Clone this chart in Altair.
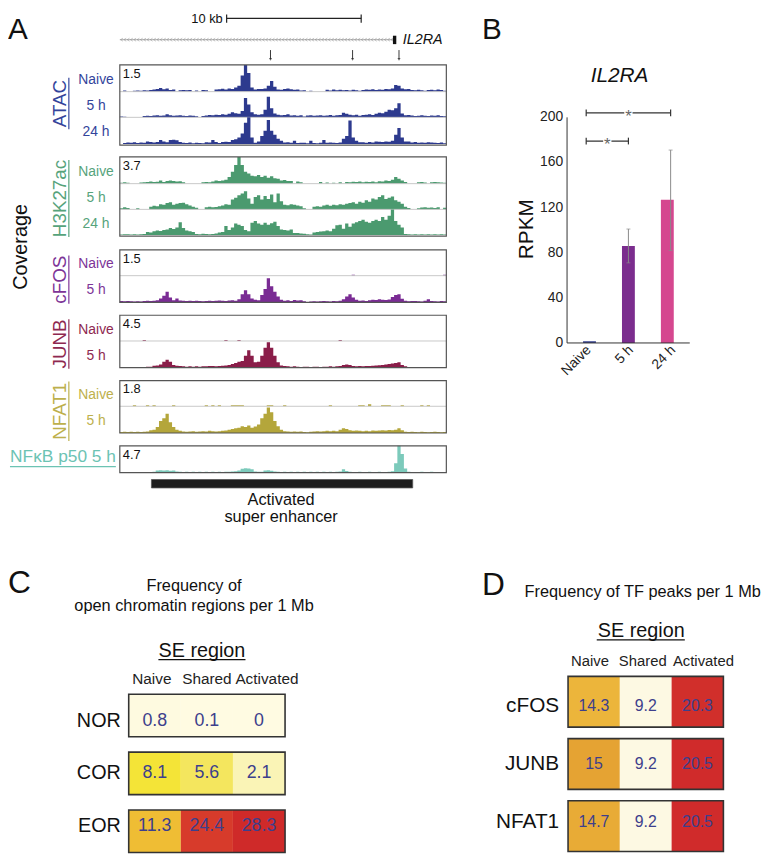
import altair as alt
import pandas as pd

FONT = "Liberation Sans"
W, H = 761, 850


def px(X):
    return X - 8


def py(Y):
    return Y - 8


# ============================ DATA ============================
GENOME_SPAN_KB = 24.27          # width of the browser window in kb
KB_PER_BIN = GENOME_SPAN_KB / 100

# coverage in percent of each track's data range (100 bins across window)
ATAC_NAIVE = [0,4,0,0,3,4,3,5,4,6, 8,10,14,9,12,6,8,0,5,6, 5,6,0,4,0,6,5,0,0,8,
              9,11,8,12,10,15,22,60,100,70, 15,8,10,10,12,22,40,18,8,7, 10,12,9,7,8,4,5,0,3,0,
              0,0,0,7,4,8,5,7,5,6, 4,7,5,3,6,8,7,9,6,8, 7,10,9,12,25,22,12,9,10,6, 5,7,5,3,6,7,5,8,6,3]
ATAC_5H = [3,2,0,0,0,0,0,5,6,5, 7,8,6,7,12,8,6,7,8,6, 5,7,6,4,0,5,7,9,8,10,
           9,12,10,14,20,16,14,25,75,50, 20,12,10,12,30,80,35,15,10,8, 9,12,7,8,6,8,3,7,8,6,
           7,8,6,7,9,6,8,9,18,14, 10,8,10,6,9,10,12,9,14,18, 16,22,30,28,35,55,15,8,9,7, 5,6,8,6,5,7,6,8,5,4]
ATAC_24H = [0,4,6,5,7,4,6,5,10,8, 6,8,15,10,7,15,16,14,8,5, 4,6,3,5,4,3,7,6,15,8,
            4,8,9,8,15,18,25,40,80,100, 25,5,10,30,50,90,50,35,20,12, 6,7,5,12,4,5,5,3,12,4,
            3,5,15,5,6,5,4,6,20,30, 88,25,12,7,7,5,8,6,10,9, 8,10,9,12,35,60,25,10,10,6, 8,5,6,5,7,6,5,4,6,3]
H3K27AC_NAIVE = [3,5,3,0,0,0,4,5,6,8, 6,7,12,6,10,12,10,8,9,5, 0,0,0,0,0,5,6,5,8,12,
                 10,12,15,25,45,70,100,70,45,38, 30,28,32,25,30,22,28,20,18,12, 14,10,10,0,8,5,0,0,0,0,
                 0,6,0,4,0,3,0,5,0,6, 5,7,6,8,5,7,6,8,5,9, 8,12,10,15,25,18,12,6,0,0, 0,5,6,4,0,5,6,5,4,3]
H3K27AC_5H = [4,8,5,0,0,4,0,0,0,10, 14,12,20,18,25,28,18,22,25,26, 20,15,10,6,0,0,8,10,8,9,
              12,15,20,18,38,45,55,62,70,42, 22,48,55,38,52,40,58,28,62,32, 18,16,20,18,15,12,4,0,0,10,
              12,10,15,18,14,18,16,20,18,22, 25,28,22,30,26,35,30,42,38,48, 55,40,45,50,35,30,22,10,5,0, 0,4,7,8,6,7,5,8,0,6]
H3K27AC_24H = [2,3,3,2,3,2,3,4,12,10, 15,18,16,20,22,28,24,30,50,28, 18,15,12,4,3,5,4,3,4,6,
               10,12,35,20,30,45,40,35,20,15, 48,55,45,40,48,40,46,52,35,22, 20,18,22,8,8,6,5,3,2,10,
               12,14,15,18,15,25,38,40,25,45, 32,45,50,55,60,52,48,55,60,55, 70,60,75,100,55,40,30,4,3,2, 3,2,3,2,3,2,3,2,3,2]
CFOS_NAIVE = [0,0,0,0,0,0,0,0,0,0, 0,0,0,0,0,0,0,0,0,0, 0,0,0,0,0,0,0,0,0,0,
              0,0,0,0,0,0,0,0,0,0, 0,0,0,0,0,0,0,0,0,0, 0,0,0,0,0,0,0,0,0,0,
              0,0,0,0,0,0,0,0,0,0, 0,4,0,0,0,0,0,0,0,0, 0,0,0,0,0,0,0,0,0,0, 0,0,0,0,0,0,0,0,0,4]
CFOS_5H = [5,4,5,4,3,4,3,5,6,5, 6,8,15,25,40,18,8,15,7,6, 5,6,5,6,5,4,5,6,5,6,
           7,6,5,7,8,6,12,30,45,30, 15,10,8,28,50,90,60,40,22,10, 6,8,5,9,7,8,4,0,3,4,
           3,4,5,4,3,5,4,6,12,22, 30,18,10,6,7,5,8,10,9,12, 10,9,11,20,28,30,14,6,4,5, 5,4,3,6,12,5,4,3,5,4]
JUNB_NAIVE = [0,0,0,0,0,0,0,4,0,0, 0,0,0,0,0,0,0,0,0,0, 0,0,0,0,0,0,0,0,0,0,
              0,0,4,0,0,0,4,0,0,0, 0,0,0,0,0,0,0,0,0,0, 0,0,0,0,0,0,0,0,0,0,
              0,0,0,0,0,0,0,4,0,0, 0,0,0,0,0,0,0,0,0,0, 0,0,0,0,0,0,0,0,0,0, 0,0,0,0,0,0,0,0,0,0]
JUNB_5H = [2,2,3,2,3,3,2,3,4,4, 7,8,12,22,30,22,10,7,6,5, 4,5,4,5,4,5,5,6,6,5,
           6,7,8,10,14,18,22,25,45,65, 45,20,22,45,75,95,75,45,20,8, 6,5,4,5,4,3,4,4,3,4,
           4,3,4,4,5,4,5,6,10,12, 10,6,5,6,5,6,6,7,8,9, 10,12,14,16,18,20,10,5,3,3, 2,3,2,3,2,3,2,2,3,2]
NFAT1_NAIVE = [0,0,0,0,4,0,0,0,4,0, 4,0,0,0,0,0,4,0,0,0, 0,0,0,0,0,0,4,0,4,0,
               4,0,0,0,4,4,4,4,0,0, 0,0,0,0,0,4,4,0,0,0, 4,0,0,0,0,0,0,0,0,0,
               0,0,0,0,4,0,0,0,0,0, 0,0,0,4,4,0,8,0,0,0, 4,4,4,0,0,0,4,0,0,0, 0,0,4,0,4,0,0,0,0,0]
NFAT1_5H = [4,5,4,5,4,5,4,5,6,10, 12,22,45,55,72,40,22,12,8,6, 5,6,7,5,6,7,6,8,7,6,
            7,8,9,12,15,18,20,25,22,28, 20,24,32,55,72,95,78,45,25,12, 7,6,5,6,5,6,4,3,5,6,
            7,6,7,8,7,8,7,12,18,15, 10,8,9,8,7,8,7,9,8,9, 10,9,11,10,12,18,10,5,4,5, 4,3,5,4,3,4,5,4,3,4]
NFKB_5H = [2,2,1,2,2,1,2,2,2,2, 3,8,9,8,9,7,8,4,3,2, 3,2,3,2,3,2,3,2,3,2,
           3,2,3,3,4,5,8,14,16,15, 12,4,3,3,8,9,7,4,3,2, 3,2,3,2,3,2,3,2,3,2,
           3,2,3,2,3,2,3,4,12,6, 3,2,2,3,2,2,3,2,2,3, 2,2,3,5,35,100,70,15,3,2, 2,2,3,2,2,3,2,2,2,2]

# genome annotations (kb within the window)
GENE_START_KB, GENE_END_KB = 0.0, 20.35
TSS_BLOCK_KB = [20.3, 20.55]
ARROW_KB = [11.2, 17.3, 20.75]
SCALEBAR_KB = [7.94, 17.94]
SUPER_ENHANCER_KB = [2.35, 21.77]

# panel B: IL2RA expression
B_CATS = ["Naive", "5 h", "24 h"]
B_RPKM = [1.5, 86, 127]
B_ERR_LO = [None, 71, 82]
B_ERR_HI = [None, 101, 171]
B_TICKS = [0, 40, 80, 120, 160, 200]
B_SIG_FROM = [0, 0]
B_SIG_TO = [2, 1]
B_SIG_Y = [204, 179]

# panel C
C_ROWS = ["NOR", "COR", "EOR"]
C_COLS = ["Naive", "Shared", "Activated"]
C_VALUES = [[0.8, 0.1, 0], [8.1, 5.6, 2.1], [11.3, 24.4, 28.3]]

# panel D
D_ROWS = ["cFOS", "JUNB", "NFAT1"]
D_COLS = ["Naive", "Shared", "Activated"]
D_VALUES = [[14.3, 9.2, 20.3], [15, 9.2, 20.5], [14.7, 9.2, 20.5]]

# ============================ HELPERS ============================
layers = []


def label(s, X, Y, size, color="#111111", align="center", baseline="middle", angle=0, style="normal"):
    return alt.Chart(pd.DataFrame({"t": [s]})).mark_text(
        align=align, baseline=baseline, fontSize=size, font=FONT, color=color,
        angle=angle, fontStyle=style).encode(text="t:N", x=alt.value(px(X)), y=alt.value(py(Y)))


def seg(X1, Y1, X2, Y2, color="#111111", w=1.0):
    return alt.Chart(pd.DataFrame({"a": [0]})).mark_rule(color=color, strokeWidth=w).encode(
        x=alt.value(px(X1)), x2=alt.value(px(X2)), y=alt.value(py(Y1)), y2=alt.value(py(Y2)))


def frame(X1, Y1, X2, Y2, color="#555555", w=1.2):
    return alt.Chart(pd.DataFrame({"a": [0]})).mark_rect(fillOpacity=0, stroke=color, strokeWidth=w).encode(
        x=alt.value(px(X1)), x2=alt.value(px(X2)), y=alt.value(py(Y1)), y2=alt.value(py(Y2)))


# ============================ PANEL A ============================
TX0, TX1 = 121, 451
gscale = alt.Scale(domain=[0, GENOME_SPAN_KB], range=[px(TX0), px(TX1)], nice=False, zero=False)

TRACKS = [
    dict(name="ATAC", color="#2d3a8e", lab="#33449b", rng="1.5", box=(61, 142),
         rows=[("Naive", ATAC_NAIVE, 61, 88), ("5 h", ATAC_5H, 88, 114), ("24 h", ATAC_24H, 114, 141)],
         nc=100, nl=52),
    dict(name="H3K27ac", color="#4b9a6f", lab="#56a37b", rng="3.7", box=(154, 234),
         rows=[("Naive", H3K27AC_NAIVE, 154, 181), ("5 h", H3K27AC_5H, 181, 207), ("24 h", H3K27AC_24H, 207, 233)],
         nc=196, nl=78),
    dict(name="cFOS", color="#7a2b94", lab="#7d3497", rng="1.5", box=(248, 301),
         rows=[("Naive", CFOS_NAIVE, 248, 274), ("5 h", CFOS_5H, 274, 301)], nc=278, nl=49),
    dict(name="JUNB", color="#8a1d49", lab="#8e2850", rng="4.5", box=(314, 367),
         rows=[("Naive", JUNB_NAIVE, 314, 340), ("5 h", JUNB_5H, 340, 367)], nc=343, nl=50),
    dict(name="NFAT1", color="#b4a63b", lab="#bdb04c", rng="1.8", box=(380, 433),
         rows=[("Naive", NFAT1_NAIVE, 380, 406), ("5 h", NFAT1_5H, 406, 433)], nc=411, nl=60),
]

for t in TRACKS:
    for i, (rl, vals, top, base) in enumerate(t["rows"]):
        assert len(vals) == 100
        df = pd.DataFrame({"s": [k * KB_PER_BIN for k in range(100)] + [GENOME_SPAN_KB],
                           "v": list(vals) + [vals[-1]]})
        layers.append(alt.Chart(df).mark_area(interpolate="step-after", color=t["color"]).encode(
            x=alt.X("s:Q", scale=gscale, axis=None),
            y=alt.Y("v:Q", scale=alt.Scale(domain=[0, 100], range=[py(base), py(top)], nice=False), axis=None)))
        if i < len(t["rows"]) - 1:
            layers.append(seg(TX0, base, TX1, base, "#c8c8c8", 1))
        layers.append(label(rl, 97, (top + base) / 2 + 1.5, 14, t["lab"]))
    b0, b1 = t["box"]
    layers.append(frame(TX0, b0, TX1, b1))
    layers.append(label(t["rng"], 124, b0 + 9, 13, "#111111", align="left"))
    layers.append(label(t["name"], 67, t["nc"], 19, t["lab"], baseline="alphabetic", angle=270))
    layers.append(seg(69.5, t["nc"] - t["nl"] / 2, 69.5, t["nc"] + t["nl"] / 2, t["lab"], 1.2))

# NFkB single track
nf_top, nf_base = 446, 473
df = pd.DataFrame({"s": [k * KB_PER_BIN for k in range(100)] + [GENOME_SPAN_KB],
                   "v": list(NFKB_5H) + [NFKB_5H[-1]]})
layers.append(alt.Chart(df).mark_area(interpolate="step-after", color="#7ccabb").encode(
    x=alt.X("s:Q", scale=gscale, axis=None),
    y=alt.Y("v:Q", scale=alt.Scale(domain=[0, 100], range=[py(nf_base), py(nf_top)], nice=False), axis=None)))
layers.append(frame(TX0, nf_top, TX1, nf_base))
layers.append(label("4.7", 124, nf_top + 9, 13, "#111111", align="left"))
layers.append(label("NF\u03baB p50 5 h", 117, 457, 17.5, "#6cc3b3", align="right"))
layers.append(seg(10, 467, 117, 467, "#6cc3b3", 1.2))

layers.append(label("Coverage", 27, 245, 20, "#111111", baseline="alphabetic", angle=270))

# gene model
gene_df = pd.DataFrame({"s": [GENE_START_KB], "e": [GENE_END_KB]})
layers.append(alt.Chart(gene_df).mark_rule(color="#9a9a9a", strokeWidth=0.8).encode(
    x=alt.X("s:Q", scale=gscale, axis=None), x2="e:Q", y=alt.value(py(35.5))))
chev = pd.DataFrame({"s": [0.12 + 0.245 * k for k in range(83)]})
layers.append(alt.Chart(chev).mark_point(shape="M1,-1L-0.6,0L1,1", filled=False, color="#8a8a8a",
                                          strokeWidth=0.7, size=9).encode(
    x=alt.X("s:Q", scale=gscale, axis=None), y=alt.value(py(35.5))))
tss = pd.DataFrame({"s": [TSS_BLOCK_KB[0]], "e": [TSS_BLOCK_KB[1]]})
layers.append(alt.Chart(tss).mark_rect(color="#111111").encode(
    x=alt.X("s:Q", scale=gscale, axis=None), x2="e:Q", y=alt.value(py(31.5)), y2=alt.value(py(40))))
layers.append(label("IL2RA", 407, 36, 14.5, "#111111", align="left", style="italic"))

# scale bar
sb = pd.DataFrame({"s": [SCALEBAR_KB[0]], "e": [SCALEBAR_KB[1]]})
layers.append(alt.Chart(sb).mark_rule(color="#222222", strokeWidth=1.2).encode(
    x=alt.X("s:Q", scale=gscale, axis=None), x2="e:Q", y=alt.value(py(14))))
sbe = pd.DataFrame({"s": SCALEBAR_KB})
layers.append(alt.Chart(sbe).mark_rule(color="#222222", strokeWidth=1.2).encode(
    x=alt.X("s:Q", scale=gscale, axis=None), y=alt.value(py(10)), y2=alt.value(py(18.5))))
layers.append(label("10 kb", 225, 14.5, 13, "#111111", align="right"))

# arrows
arr = pd.DataFrame({"s": ARROW_KB})
layers.append(alt.Chart(arr).mark_rule(color="#222222", strokeWidth=0.9).encode(
    x=alt.X("s:Q", scale=gscale, axis=None), y=alt.value(py(46)), y2=alt.value(py(55))))
layers.append(alt.Chart(arr).mark_point(shape="triangle-down", filled=True, color="#222222", size=10).encode(
    x=alt.X("s:Q", scale=gscale, axis=None), y=alt.value(py(55.5))))

# super enhancer bar
se = pd.DataFrame({"s": [SUPER_ENHANCER_KB[0]], "e": [SUPER_ENHANCER_KB[1]]})
layers.append(alt.Chart(se).mark_rect(color="#1e1e1e", stroke="#555555", strokeWidth=0.8).encode(
    x=alt.X("s:Q", scale=gscale, axis=None), x2="e:Q", y=alt.value(py(480)), y2=alt.value(py(488.5))))
layers.append(label("Activated", 284, 506, 16.5, baseline="alphabetic"))
layers.append(label("super enhancer", 284, 522.5, 16.5, baseline="alphabetic"))

layers.append(label("A", 8, 35, 30, "#111111", align="left", baseline="alphabetic"))

# ============================ PANEL B ============================
bx = alt.Scale(domain=[-0.5, 2.5], range=[px(571), px(699)], nice=False, zero=False)
by = alt.Scale(domain=[0, 200], range=[py(342), py(114)], nice=False, zero=False)
B_COLORS = ["#2e3a8c", "#7b2d8e", "#d5478f"]

bdf = pd.DataFrame({"i": [0, 1, 2], "cat": B_CATS, "v": B_RPKM})
layers.append(alt.Chart(bdf).mark_bar(size=13).encode(
    x=alt.X("i:Q", scale=bx, axis=None),
    y=alt.Y("v:Q", scale=by, axis=None),
    color=alt.Color("cat:N", scale=alt.Scale(domain=B_CATS, range=B_COLORS), legend=None)))

edf = pd.DataFrame({"i": [1, 2], "lo": B_ERR_LO[1:], "hi": B_ERR_HI[1:]})
layers.append(alt.Chart(edf).mark_rule(color="#8a8a8a", strokeWidth=1).encode(
    x=alt.X("i:Q", scale=bx, axis=None), y=alt.Y("lo:Q", scale=by, axis=None), y2="hi:Q"))
edl = pd.DataFrame({"i": [1, 2, 1, 2], "y": B_ERR_LO[1:] + B_ERR_HI[1:]})
layers.append(alt.Chart(edl).mark_tick(orient="horizontal", color="#8a8a8a", size=4, thickness=1).encode(
    x=alt.X("i:Q", scale=bx, axis=None), y=alt.Y("y:Q", scale=by, axis=None)))

# axes
axis_df = pd.DataFrame({"lo": [0], "hi": [200]})
layers.append(alt.Chart(axis_df).mark_rule(color="#333333", strokeWidth=1).encode(
    x=alt.value(px(573)), y=alt.Y("lo:Q", scale=by, axis=None), y2="hi:Q"))
layers.append(alt.Chart(axis_df).mark_rule(color="#333333", strokeWidth=1).encode(
    x=alt.value(px(573)), x2=alt.value(px(697)), y=alt.Y("lo:Q", scale=by, axis=None)))
tdf = pd.DataFrame({"v": B_TICKS, "t": [str(v) for v in B_TICKS]})
layers.append(alt.Chart(tdf).mark_text(align="right", baseline="middle", fontSize=14, font=FONT,
                                       color="#222222").encode(
    x=alt.value(px(569)), y=alt.Y("v:Q", scale=by, axis=None), text="t:N"))
layers.append(alt.Chart(bdf).mark_text(align="right", baseline="middle", fontSize=14, font=FONT,
                                       color="#222222", angle=315, dx=4).encode(
    x=alt.X("i:Q", scale=bx, axis=None), y=alt.value(py(350)), text="cat:N"))

# significance brackets
sdf = pd.DataFrame({"a": B_SIG_FROM, "b": B_SIG_TO, "y": B_SIG_Y})
sdf["m"] = (sdf["a"] + sdf["b"]) / 2
sdf["y0"] = sdf["y"] - 3
sdf["y1"] = sdf["y"] + 3
layers.append(alt.Chart(sdf).mark_rule(color="#333333", strokeWidth=1.2).encode(
    x=alt.X("a:Q", scale=bx, axis=None), x2="b:Q", y=alt.Y("y:Q", scale=by, axis=None)))
for c in ["a", "b"]:
    layers.append(alt.Chart(sdf).mark_rule(color="#333333", strokeWidth=1.2).encode(
        x=alt.X(f"{c}:Q", scale=bx, axis=None), y=alt.Y("y0:Q", scale=by, axis=None), y2="y1:Q"))
layers.append(alt.Chart(sdf).mark_point(shape="square", filled=True, color="white", opacity=1, size=70).encode(
    x=alt.X("m:Q", scale=bx, axis=None), y=alt.Y("y:Q", scale=by, axis=None)))
layers.append(alt.Chart(sdf).mark_text(text="*", fontSize=17, font=FONT, color="#666666", dy=4).encode(
    x=alt.X("m:Q", scale=bx, axis=None), y=alt.Y("y:Q", scale=by, axis=None)))

layers.append(label("IL2RA", 626, 72, 21, "#111111", style="italic"))
layers.append(label("RPKM", 539, 227, 21, "#111111", baseline="alphabetic", angle=270))
layers.append(label("B", 487, 35, 30, "#111111", align="left", baseline="alphabetic"))


# ============================ PANELS C / D ============================
def heatmap(rows, cols, values, x0, x1, y0, y1, pad, cdom, crng, row_x, row_size,
            head_y, head_size, head_dx, val_size):
    xs = alt.Scale(domain=[0, len(cols)], range=[px(x0), px(x1)], nice=False, zero=False)
    ys = alt.Scale(domain=rows, range=[py(y0), py(y1)], paddingInner=pad, paddingOuter=0)
    cells = pd.DataFrame([{"row": r, "c0": j, "c1": j + 1, "cm": j + 0.5, "v": values[i][j],
                           "lab": f"{values[i][j]:g}"}
                          for i, r in enumerate(rows) for j in range(len(cols))])
    out = []
    out.append(alt.Chart(cells).mark_rect().encode(
        x=alt.X("c0:Q", scale=xs, axis=None), x2="c1:Q",
        y=alt.Y("row:N", scale=ys, axis=None),
        color=alt.Color("v:Q", scale=alt.Scale(domain=cdom, range=crng, interpolate="rgb"), legend=None)))
    fr = pd.DataFrame({"row": rows, "c0": [0] * len(rows), "c1": [len(cols)] * len(rows)})
    out.append(alt.Chart(fr).mark_rect(fillOpacity=0, stroke="#333333", strokeWidth=1.6).encode(
        x=alt.X("c0:Q", scale=xs, axis=None), x2="c1:Q", y=alt.Y("row:N", scale=ys, axis=None)))
    out.append(alt.Chart(cells).mark_text(fontSize=val_size, font=FONT, color="#3d3f8c").encode(
        x=alt.X("cm:Q", scale=xs, axis=None), y=alt.Y("row:N", scale=ys, axis=None), text="lab:N"))
    out.append(alt.Chart(pd.DataFrame({"row": rows})).mark_text(
        align="right", fontSize=row_size, font=FONT, color="#111111").encode(
        x=alt.value(px(row_x)), y=alt.Y("row:N", scale=ys, axis=None), text="row:N"))
    for j, col in enumerate(cols):
        hd = pd.DataFrame({"col": [col], "cm": [j + 0.5]})
        out.append(alt.Chart(hd).mark_text(fontSize=head_size, font=FONT, color="#222222",
                                           dx=head_dx[j]).encode(
            x=alt.X("cm:Q", scale=xs, axis=None), y=alt.value(py(head_y)), text="col:N"))
    return out


layers += heatmap(C_ROWS, C_COLS, C_VALUES, 130, 288, 697, 857, 0.265,
                  [0, 1, 2.1, 5.6, 8.1, 11.3, 24.4, 28.3],
                  ["#fffbe2", "#fefae0", "#faf4b6", "#f4e65e", "#f4e437", "#efbd34", "#d73b2b", "#cf2a29"],
                  122, 20, 682, 15.5, [-3, 0, 8], 18)
layers += heatmap(D_ROWS, D_COLS, D_VALUES, 574, 731, 679, 856, 0.184,
                  [9.2, 14.3, 15, 20.5],
                  ["#fdf9e3", "#ecb53b", "#e5a333", "#d02b2b"],
                  565, 21, 663, 15, [-4, -3, 6], 16)

layers.append(label("Frequency of", 196, 588, 16.5))
layers.append(label("open chromatin regions per 1 Mb", 196, 608, 16.5))
layers.append(label("SE region", 204, 653, 20))
layers.append(seg(160, 662, 248, 662, "#111111", 1.2))
layers.append(label("C", 8, 595, 32, "#111111", align="left", baseline="alphabetic"))

layers.append(label("Frequency of TF peaks per 1 Mb", 530, 594, 16.5, align="left"))
layers.append(label("SE region", 648, 633, 20))
layers.append(seg(603, 642, 692, 642, "#111111", 1.2))
layers.append(label("D", 487, 597, 32, "#111111", align="left", baseline="alphabetic"))

chart = alt.layer(*layers).resolve_scale(
    x="independent", y="independent", color="independent"
).properties(
    width=W, height=H, padding=0, background="white",
    autosize=alt.AutoSizeParams(type="none")
).configure_view(stroke=None)

chart.save("out.html", embed_options={"renderer": "svg", "actions": False})
